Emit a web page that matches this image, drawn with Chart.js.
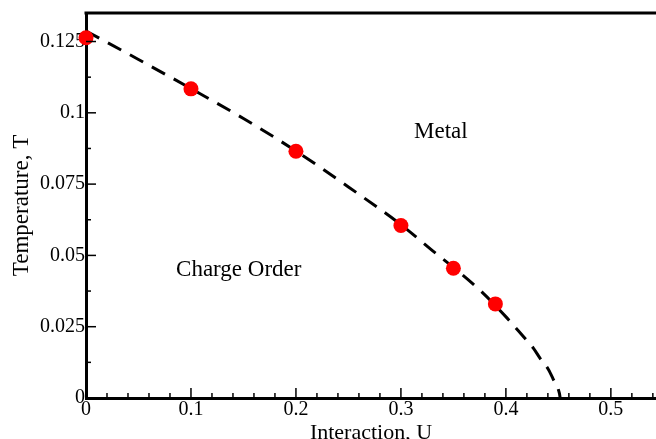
<!DOCTYPE html>
<html>
<head>
<meta charset="utf-8">
<script src="https://cdn.jsdelivr.net/npm/chart.js@4"></script>
<style>
  html, body { margin: 0; padding: 0; background: #fff; }
  #wrap { width: 656px; height: 439px; }
</style>
</head>
<body>
<div id="wrap"><canvas id="myChart" width="656" height="439"></canvas></div>
<script>
var ctx = document.getElementById('myChart');

// measured points (red dots)
var pointU = [0, 0.1, 0.2, 0.3, 0.35, 0.39];
var pointT = [0.1263, 0.1084, 0.0865, 0.0605, 0.0455, 0.033];

// dashed phase boundary
var lineU = [0, 0.05, 0.1, 0.15, 0.2, 0.25, 0.3, 0.33, 0.35, 0.377, 0.401, 0.416, 0.4263, 0.4326, 0.4405, 0.4447, 0.451, 0.4517];
var lineT = [0.1287, 0.1187, 0.1085, 0.098, 0.0866, 0.074, 0.0608, 0.0517, 0.0458, 0.0372, 0.0281, 0.0218, 0.0174, 0.0139, 0.0100, 0.0069, 0.0016, 0];

// region labels
var regionLabels = ['Metal', 'Charge Order'];
var regionU = [0.338, 0.1455];
var regionT = [0.0934, 0.0448];

const X_MAX = 0.543;
const Y_MAX = 0.135;
const SERIF = '"Liberation Serif", "Times New Roman", serif';

function toXY(xs, ys){
  return xs.map((x, i) => ({x: x, y: ys[i]}));
}

// inward ticks, top border and the two region labels
var framePlugin = {
  id: 'frame',
  afterDraw(chart){
    const c = chart.ctx;
    const xs = chart.scales.x;
    const ys = chart.scales.y;
    const area = chart.chartArea;
    c.save();
    c.strokeStyle = '#000';
    c.lineWidth = 1.5;
    // x ticks
    for (let i = 0; i * 0.02 <= X_MAX + 1e-9; i++){
      const px = xs.getPixelForValue(i * 0.02);
      const len = (i % 5 === 0) ? 10 : 5;
      c.beginPath();
      c.moveTo(px, area.bottom);
      c.lineTo(px, area.bottom - len);
      c.stroke();
    }
    // y ticks
    for (let i = 0; i * 0.0125 <= Y_MAX + 1e-9; i++){
      const py = ys.getPixelForValue(i * 0.0125);
      const len = (i % 2 === 0) ? 10 : 5;
      c.beginPath();
      c.moveTo(area.left, py);
      c.lineTo(area.left + len, py);
      c.stroke();
    }
    // top border
    c.lineWidth = 3;
    c.beginPath();
    c.moveTo(area.left - 1.5, area.top);
    c.lineTo(area.right, area.top);
    c.stroke();
    // region labels
    c.fillStyle = '#000';
    c.font = '23px ' + SERIF;
    c.textAlign = 'center';
    c.textBaseline = 'middle';
    regionLabels.forEach((t, i) => {
      c.fillText(t, xs.getPixelForValue(regionU[i]), ys.getPixelForValue(regionT[i]));
    });
    c.restore();
  }
};

new Chart(ctx, {
  type: 'scatter',
  data: {
    datasets: [
      {
        label: 'boundary',
        data: toXY(lineU, lineT),
        showLine: true,
        borderColor: '#000',
        borderWidth: 3,
        borderDash: [15, 10],
        pointRadius: 0,
        cubicInterpolationMode: 'monotone',
        clip: false,
        order: 2
      },
      {
        label: 'data',
        data: toXY(pointU, pointT),
        showLine: false,
        backgroundColor: '#ff0000',
        borderColor: '#ff0000',
        pointRadius: 7.5,
        pointBorderWidth: 0,
        clip: false,
        order: 1
      }
    ]
  },
  plugins: [framePlugin],
  options: {
    responsive: false,
    animation: false,
    layout: { autoPadding: false, padding: { top: 12, right: 0, left: 0, bottom: 0 } },
    plugins: { legend: { display: false }, tooltip: { enabled: false } },
    scales: {
      x: {
        type: 'linear',
        min: 0,
        max: X_MAX,
        afterFit: (s) => { s.height = 41; },
        grid: { display: false, drawTicks: false },
        border: { display: true, color: '#000', width: 3 },
        ticks: {
          stepSize: 0.1,
          includeBounds: false,
          padding: 0,
          color: '#000',
          font: { family: SERIF, size: 20 },
          callback: (v) => String(Math.round(v * 10) / 10)
        },
        title: {
          display: true,
          text: 'Interaction, U',
          color: '#000',
          font: { family: SERIF, size: 22 },
          padding: { top: 0, bottom: -7 }
        }
      },
      y: {
        type: 'linear',
        min: 0,
        max: Y_MAX,
        afterFit: (s) => { s.width = 86; },
        grid: { display: false, drawTicks: false },
        border: { display: true, color: '#000', width: 3 },
        ticks: {
          stepSize: 0.025,
          includeBounds: false,
          padding: 1,
          color: '#000',
          font: { family: SERIF, size: 20 },
          callback: (v) => String(Math.round(v * 1000) / 1000)
        },
        title: {
          display: true,
          text: 'Temperature, T',
          color: '#000',
          font: { family: SERIF, size: 23 },
          padding: { top: 8, bottom: 0 }
        }
      }
    }
  }
});
</script>
</body>
</html>
